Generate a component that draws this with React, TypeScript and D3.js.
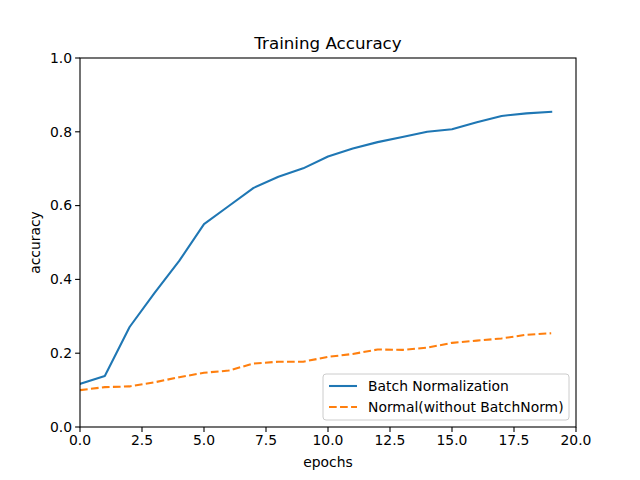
import React from "react";
import * as d3 from "d3";

const epochs = d3.range(20);
const batchNorm = [0.117, 0.138, 0.271, 0.363, 0.45, 0.55, 0.599, 0.648, 0.678, 0.701, 0.733, 0.755, 0.772, 0.786, 0.8, 0.807, 0.826, 0.843, 0.85, 0.854];
const normal = [0.1, 0.108, 0.11, 0.121, 0.135, 0.147, 0.153, 0.172, 0.177, 0.177, 0.19, 0.198, 0.21, 0.209, 0.215, 0.228, 0.234, 0.24, 0.25, 0.254];
const xTicks = [0, 2.5, 5, 7.5, 10, 12.5, 15, 17.5, 20];
const yTicks = [0, 0.2, 0.4, 0.6, 0.8, 1.0];

const W = 640, H = 480;
const L = 80, R = 576, T = 58, B = 427;
const FONT = "DejaVu Sans, sans-serif";
const LW = 2.08;
const DASH = "7.7,3.33";

export default function App() {
  const x = d3.scaleLinear().domain([0, 20]).range([L, R]);
  const y = d3.scaleLinear().domain([0, 1]).range([B, T]);
  const line = (vals: number[]) =>
    d3.line<number>().x((_, i) => x(epochs[i])).y((d) => y(d))(vals) || "";

  return (
    <svg width={W} height={H} style={{ position: "absolute", left: 0, top: 0 }} fontFamily={FONT}>
      <rect width={W} height={H} fill="#fff" />
      <defs>
        <clipPath id="plot">
          <rect x={L} y={T} width={R - L} height={B - T} />
        </clipPath>
      </defs>
      <g clipPath="url(#plot)">
        <path d={line(batchNorm)} fill="none" stroke="#1f77b4" strokeWidth={LW} strokeLinecap="square" strokeLinejoin="round" />
        <path d={line(normal)} fill="none" stroke="#ff7f0e" strokeWidth={LW} strokeDasharray={DASH} strokeLinejoin="round" />
      </g>
      <rect x={L} y={T} width={R - L} height={B - T} fill="none" stroke="#000" strokeWidth={1.1} />
      {xTicks.map((t) => (
        <g key={"x" + t}>
          <line x1={x(t)} x2={x(t)} y1={B} y2={B + 4.9} stroke="#000" strokeWidth={1.1} />
          <text x={x(t)} y={B + 18} fontSize={13.9} textAnchor="middle" fill="#000">{t.toFixed(1)}</text>
        </g>
      ))}
      {yTicks.map((t) => (
        <g key={"y" + t}>
          <line x1={L - 4.9} x2={L} y1={y(t)} y2={y(t)} stroke="#000" strokeWidth={1.1} />
          <text x={L - 8} y={y(t)} dy="0.35em" fontSize={13.9} textAnchor="end" fill="#000">{t.toFixed(1)}</text>
        </g>
      ))}
      <text x={(L + R) / 2} y={T - 9} fontSize={16.7} textAnchor="middle" fill="#000">Training Accuracy</text>
      <text x={(L + R) / 2} y={467} fontSize={13.9} textAnchor="middle" fill="#000">epochs</text>
      <text transform={`translate(40,${(T + B) / 2}) rotate(-90)`} fontSize={13.9} textAnchor="middle" fill="#000">accuracy</text>
      <g>
        <rect x={323} y={374} width={246} height={46} rx={3} fill="#fff" fillOpacity={0.8} stroke="#ccc" strokeWidth={1} />
        <line x1={329} x2={357} y1={386} y2={386} stroke="#1f77b4" strokeWidth={LW} />
        <text x={368} y={386} dy="0.35em" fontSize={13.9} fill="#000">Batch Normalization</text>
        <line x1={329} x2={357} y1={407} y2={407} stroke="#ff7f0e" strokeWidth={LW} strokeDasharray={DASH} />
        <text x={368} y={407} dy="0.35em" fontSize={13.9} fill="#000">Normal(without BatchNorm)</text>
      </g>
    </svg>
  );
}
